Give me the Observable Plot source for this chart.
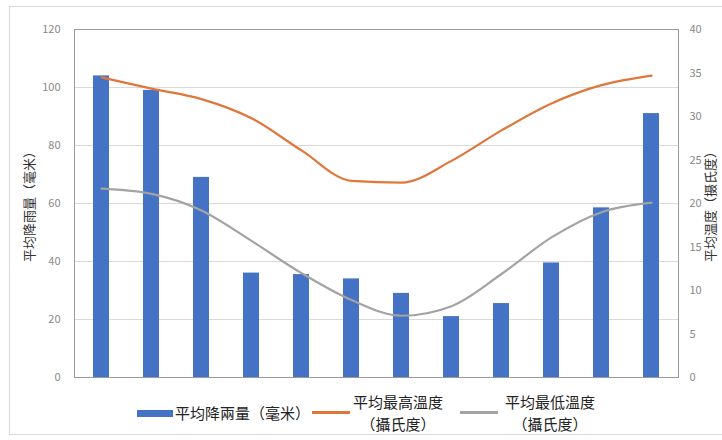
<!DOCTYPE html>
<html><head><meta charset="utf-8">
<script src="https://cdn.jsdelivr.net/npm/d3@7"></script>
<script src="https://cdn.jsdelivr.net/npm/@observablehq/plot@0.6"></script>
<style>
html,body{margin:0;padding:0;background:#fff;}
#wrap{position:relative;width:722px;height:440px;overflow:hidden;font-family:"Noto Sans CJK SC","Noto Sans",sans-serif;}
#border{position:absolute;left:9px;top:6px;width:730px;height:429px;border:1px solid #dadada;box-sizing:border-box;}
#chart{position:absolute;left:0;top:0;}
.lg{position:absolute;font-size:15px;color:#222;line-height:22px;white-space:nowrap;}
.sw{position:absolute;height:5px;}
</style></head>
<body><div id="wrap"><div id="border"></div><div id="chart"></div><div id="legend"></div></div>
<script>
const months = ["1月","2月","3月","4月","5月","6月","7月","8月","9月","10月","11月","12月"];
const rainfall = [104, 99, 69, 36, 35.5, 34, 29, 21, 25.5, 39.5, 58.5, 91];
const maxTemp = [34.5, 33.2, 32, 29.8, 26.1, 22.6, 22.4, 24.9, 28.4, 31.5, 33.6, 34.7];
const minTemp = [21.7, 21.1, 19.2, 15.7, 12, 8.9, 7.1, 8.2, 11.9, 16.1, 19, 20.1];
const leftTicks = [0, 20, 40, 60, 80, 100, 120];
const rightTicks = [0, 5, 10, 15, 20, 25, 30, 35, 40];
const seriesNames = ["平均降兩量（毫米）", "平均最高溫度\n（攝氏度）", "平均最低溫度\n（攝氏度）"];
const colors = ["#4472C4", "#E0763A", "#A3A3A3"];
const leftTitle = "平均降雨量（毫米）";
const rightTitle = "平均温度（摄氏度）";

const data = months.map((m, i) => ({month: m, rain: rainfall[i], tmax: maxTemp[i], tmin: minTemp[i]}));
const k = 120 / 40;

const plot = Plot.plot({
  width: 722, height: 390,
  marginLeft: 74, marginRight: 44, marginTop: 29, marginBottom: 13,
  style: {fontFamily: '"Noto Sans CJK SC","Noto Sans",sans-serif', fontSize: "11px", color: "#888", background: "transparent"},
  x: {type: "band", domain: months, paddingInner: 0.67, paddingOuter: 0.33, axis: null},
  y: {domain: [0, 120]},
  marks: [
    Plot.gridY(leftTicks, {stroke: "#d9d9d9", strokeOpacity: 1}),
    Plot.barY(data, {x: "month", y: "rain", fill: colors[0]}),
    Plot.line(data, {x: "month", y: d => d.tmax * k, stroke: colors[1], strokeWidth: 2.2, curve: "monotone-x"}),
    Plot.line(data, {x: "month", y: d => d.tmin * k, stroke: colors[2], strokeWidth: 2.2, curve: "monotone-x"}),
    Plot.frame({stroke: "#9a9a9a"}),
    Plot.axisY(leftTicks, {anchor: "left", tickSize: 0, tickPadding: 14, fill: "#888",
      label: leftTitle, labelAnchor: "center", labelArrow: "none", labelOffset: 50}),
    Plot.axisY(rightTicks.map(t => t * k), {anchor: "right", tickSize: 0, tickPadding: 11, fill: "#888",
      tickFormat: d => String(d / k), textAnchor: "start",
      label: rightTitle, labelAnchor: "center", labelArrow: "none", labelOffset: 36})
  ]
});
plot.querySelectorAll("g[aria-label='y-axis label'] text").forEach(t => { t.style.fontSize = "13px"; t.setAttribute("fill", "#333"); });
document.getElementById("chart").appendChild(plot);

const legend = document.getElementById("legend");
const items = [
  {sw: [137, 36], text: [175, 402]},
  {sw: [312, 38], text: [353, 391]},
  {sw: [460, 38], text: [505, 391]}
];
items.forEach((it, i) => {
  const s = document.createElement("div");
  s.className = "sw";
  s.style.left = it.sw[0] + "px"; s.style.width = it.sw[1] + "px";
  s.style.top = (i === 0 ? 410 : 411) + "px";
  s.style.height = (i === 0 ? 7 : 3) + "px";
  s.style.background = colors[i];
  legend.appendChild(s);
  const t = document.createElement("div");
  t.className = "lg";
  t.style.left = it.text[0] + "px"; t.style.top = it.text[1] + "px";
  t.style.textAlign = "center";
  t.innerHTML = seriesNames[i].split("\n").join("<br>");
  legend.appendChild(t);
});
</script></body></html>
